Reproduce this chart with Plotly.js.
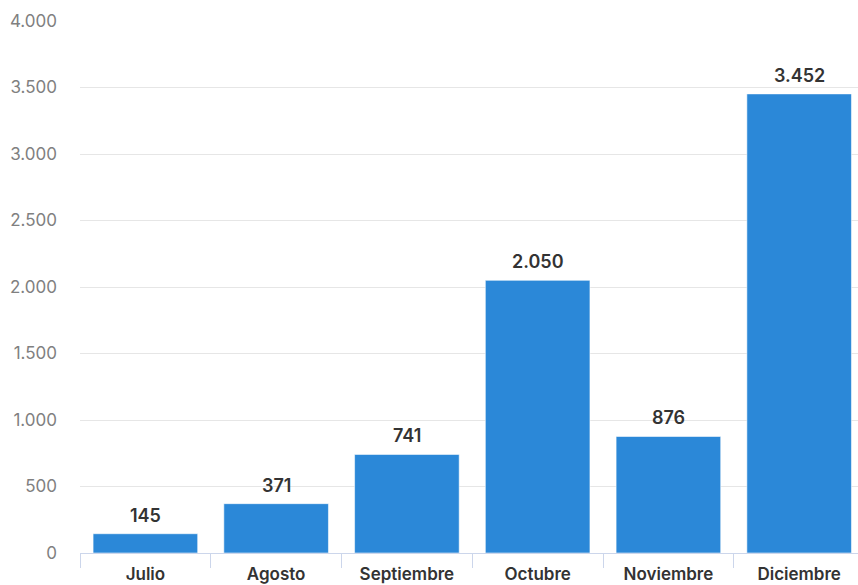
<!DOCTYPE html>
<html>
<head>
<meta charset="utf-8">
<script src="https://cdn.plot.ly/plotly-3.0.1.min.js"></script>
<style>
  html, body { margin: 0; padding: 0; background: #ffffff; }
  #chart { width: 858px; height: 585px; }
</style>
</head>
<body>
<div id="chart"></div>
<script>
// Monthly totals, July to December
const months = ["Julio", "Agosto", "Septiembre", "Octubre", "Noviembre", "Diciembre"];
const totals = [145, 371, 741, 2050, 876, 3452];
const yTicks = [0, 500, 1000, 1500, 2000, 2500, 3000, 3500, 4000];

const fontFamily = "Inter, 'Liberation Sans', Arial, sans-serif";

// Spanish number formatting: dot as thousands separator
const fmt = v => v.toString().replace(/\B(?=(\d{3})+(?!\d))/g, ".");

const trace = {
  type: "bar",
  x: months,
  y: totals,
  marker: {
    color: "#2b88d8",
    line: { color: "rgba(255,255,255,0.55)", width: 1 }
  },
  hoverinfo: "skip"
};

// Value labels above each bar
const valueLabels = months.map((m, i) => ({
  x: m,
  y: totals[i],
  xref: "x",
  yref: "y",
  text: fmt(totals[i]),
  showarrow: false,
  yanchor: "bottom",
  yshift: 6,
  font: { family: fontFamily, size: 18, color: "#333333", weight: 600 }
}));

const layout = {
  width: 858,
  height: 585,
  margin: { l: 80, r: 0, t: 21, b: 32 },
  separators: ",.",
  paper_bgcolor: "#ffffff",
  plot_bgcolor: "#ffffff",
  showlegend: false,
  bargap: 0.2,
  font: { family: fontFamily },
  annotations: valueLabels,
  xaxis: {
    type: "category",
    range: [-0.5, 5.45],
    showline: true,
    linecolor: "#ccd6eb",
    linewidth: 1,
    ticks: "outside",
    tickson: "boundaries",
    ticklen: 14,
    tickcolor: "#ccd6eb",
    tickwidth: 1,
    ticklabelstandoff: 6,
    showgrid: false,
    tickfont: { family: fontFamily, size: 17, color: "#333333", weight: 600 },
    fixedrange: true
  },
  yaxis: {
    range: [0, 4000],
    tickvals: yTicks,
    tickformat: ",",
    showgrid: true,
    gridcolor: "#e6e6e6",
    gridwidth: 1,
    zeroline: false,
    showline: false,
    ticks: "",
    ticklabelstandoff: 22,
    tickfont: { family: fontFamily, size: 17, color: "#808080" },
    fixedrange: true
  }
};

Plotly.newPlot("chart", [trace], layout, { displayModeBar: false, staticPlot: true });
</script>
</body>
</html>
